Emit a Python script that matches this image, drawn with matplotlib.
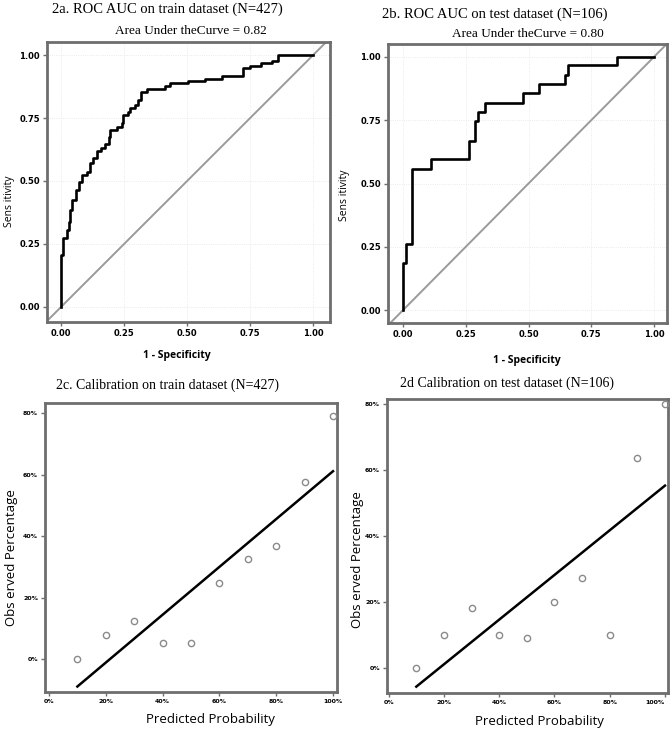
import numpy as np
import matplotlib
matplotlib.use("Agg")
import matplotlib.pyplot as plt
from matplotlib.ticker import PercentFormatter, FormatStrFormatter

# ROC curves (points where the step curve jumps: fpr, tpr after the jump)
train_fpr = [0, 0, 0.009, 0.022, 0.032, 0.036, 0.045, 0.058, 0.069, 0.082, 0.102, 0.115,
             0.128, 0.141, 0.160, 0.175, 0.190, 0.194, 0.221, 0.241, 0.247, 0.265, 0.274,
             0.294, 0.307, 0.316, 0.340, 0.413, 0.433, 0.505, 0.571, 0.638, 0.723, 0.750,
             0.792, 0.836, 0.862, 1.0]
train_tpr = [0, 0.206, 0.273, 0.305, 0.339, 0.385, 0.425, 0.464, 0.497, 0.524, 0.537, 0.570,
             0.590, 0.620, 0.630, 0.645, 0.675, 0.702, 0.713, 0.729, 0.762, 0.775, 0.788,
             0.802, 0.821, 0.855, 0.864, 0.877, 0.888, 0.898, 0.907, 0.918, 0.947, 0.956,
             0.969, 0.977, 1.0, 1.0]

test_fpr = [0, 0, 0.012, 0.035, 0.112, 0.263, 0.287, 0.300, 0.327, 0.480, 0.543, 0.645,
            0.659, 0.851, 1.0]
test_tpr = [0, 0.187, 0.261, 0.556, 0.596, 0.669, 0.746, 0.783, 0.819, 0.856, 0.893, 0.930,
            0.968, 1.0, 1.0]

train_auc = 0.82
test_auc = 0.80

# Calibration (decile of predicted probability vs observed share)
pred_bins = [0.1, 0.2, 0.3, 0.4, 0.5, 0.6, 0.7, 0.8, 0.9, 1.0]
obs_train = [0.0, 0.078, 0.124, 0.051, 0.051, 0.246, 0.325, 0.368, 0.577, 0.79]
obs_test = [0.0, 0.10, 0.181, 0.10, 0.091, 0.20, 0.273, 0.10, 0.637, 0.80]

roc_ticks = [0, 0.25, 0.5, 0.75, 1.0]
cal_xticks = [0, 0.2, 0.4, 0.6, 0.8, 1.0]
cal_yticks = [0, 0.2, 0.4, 0.6, 0.8]

W, H = 671, 729
fig = plt.figure(figsize=(W / 100, H / 100), dpi=100)


def box(l, t, r, b):
    # pixel box -> figure axes
    return fig.add_axes([l / W, 1 - b / H, (r - l) / W, (b - t) / H])


def style(ax, size):
    for s in ax.spines.values():
        s.set_color("#6e6e6e")
        s.set_linewidth(2)
    ax.tick_params(direction="out", length=3, width=1, color="#6e6e6e",
                   labelsize=size, pad=2)
    for lab in ax.get_xticklabels() + ax.get_yticklabels():
        lab.set_fontweight("bold")


def roc_panel(ax, fpr, tpr, xlim, ylim):
    ax.plot(fpr, tpr, drawstyle="steps-post", color="black", lw=1.9, zorder=3)
    ax.axline((0, 0), slope=1, color="#9a9a9a", lw=1.4, zorder=2)
    ax.set_xlim(*xlim)
    ax.set_ylim(*ylim)
    ax.set_xticks(roc_ticks)
    ax.set_yticks(roc_ticks)
    ax.xaxis.set_major_formatter(FormatStrFormatter("%.2f"))
    ax.yaxis.set_major_formatter(FormatStrFormatter("%.2f"))
    ax.grid(True, color="#e4e4e4", lw=0.6, ls=":")
    style(ax, 6)


def cal_panel(ax, obs, xlim, ylim):
    slope, icpt = np.polyfit(pred_bins, obs, 1)
    xs = np.array([pred_bins[0], pred_bins[-1]])
    ax.plot(xs, icpt + slope * xs, color="black", lw=1.8, zorder=2)
    ax.plot(pred_bins, obs, "o", mfc="none", mec="#8a8a8a", ms=4.5, mew=1, zorder=3)
    ax.set_xlim(*xlim)
    ax.set_ylim(*ylim)
    ax.set_xticks(cal_xticks)
    ax.set_yticks(cal_yticks)
    ax.xaxis.set_major_formatter(PercentFormatter(1.0, decimals=0))
    ax.yaxis.set_major_formatter(PercentFormatter(1.0, decimals=0))
    style(ax, 4.5)


ax_a = box(47, 42, 330, 322)
roc_panel(ax_a, train_fpr, train_tpr, (-0.056, 1.067), (-0.06, 1.052))
ax_b = box(388, 44, 667, 323)
roc_panel(ax_b, test_fpr, test_tpr, (-0.06, 1.052), (-0.051, 1.051))
ax_c = box(45, 403, 337, 692)
cal_panel(ax_c, obs_train, (-0.014, 1.014), (-0.107, 0.833))
ax_d = box(387, 399, 668, 693)
cal_panel(ax_d, obs_test, (-0.006, 1.011), (-0.076, 0.816))
# last tick label of the right panel sits at the figure edge
ax_d.get_xticklabels()[-1].set_horizontalalignment("right")

serif = "Liberation Serif"
sans = "Open Sans"


def ftext(x, y, s, **kw):
    fig.text(x / W, 1 - y / H, s, ha="center", va="center", **kw)


# titles
ftext(167, 9, "2a. ROC AUC on train dataset (N=427)", family=serif, fontsize=10.5)
ftext(191, 31, f"Area Under theCurve = {train_auc:.2f}", family=serif, fontsize=9.5)
ftext(495, 14, "2b. ROC AUC on test dataset (N=106)", family=serif, fontsize=10.5)
ftext(528, 34, f"Area Under theCurve = {test_auc:.2f}", family=serif, fontsize=9.5)
ftext(168, 385, "2c. Calibration on train dataset (N=427)", family=serif, fontsize=10)
ftext(507, 383, "2d Calibration on test dataset (N=106)", family=serif, fontsize=10)

# axis labels
ftext(177, 356, "1 - Specificity", family=sans, fontsize=7.5, fontweight="bold")
ftext(527, 360, "1 - Specificity", family=sans, fontsize=7.5, fontweight="bold")
ftext(10, 201, "Sens itivity", family=sans, fontsize=7.5, rotation=90)
ftext(345, 195, "Sens itivity", family=sans, fontsize=7.5, rotation=90)
ftext(210, 720, "Predicted Probability", family=sans, fontsize=9.5)
ftext(539, 722, "Predicted Probability", family=sans, fontsize=9.5)
ftext(12, 558, "Obs erved Percentage", family=sans, fontsize=9.5, rotation=90)
ftext(358, 560, "Obs erved Percentage", family=sans, fontsize=9.5, rotation=90)

plt.savefig("out.png", dpi=100)
